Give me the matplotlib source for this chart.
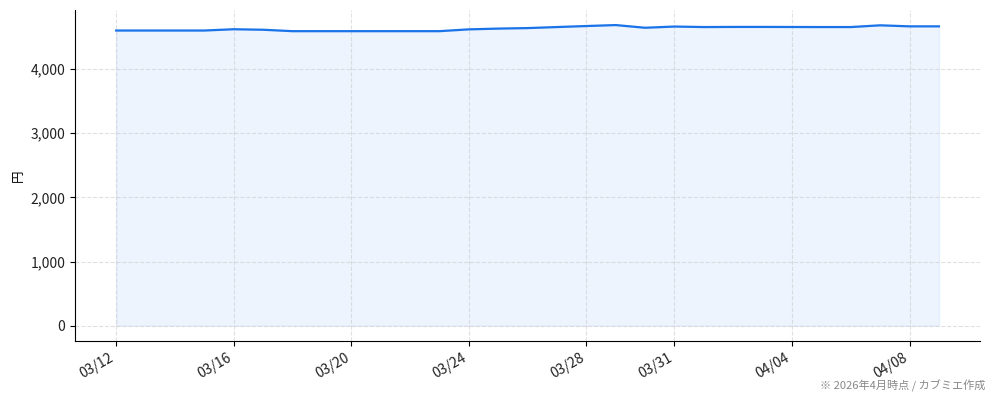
import pandas as pd
import matplotlib
matplotlib.use("Agg")
from matplotlib import pyplot as plt
import matplotlib.dates as mdates

plt.rcParams['font.family'] = ['Noto Sans CJK JP', 'DejaVu Sans']

# daily closing price (yen), 03/12 - 04/09
dates = pd.date_range("2026-03-12", "2026-04-09", freq="D")
prices = [4600, 4600, 4600, 4600, 4620, 4612, 4590, 4590, 4590, 4590,
          4590, 4590, 4618, 4630, 4638, 4654, 4670, 4685, 4643, 4662,
          4654, 4656, 4656, 4655, 4654, 4654, 4681, 4665, 4665]
tick_dates = ["2026-03-12", "2026-03-16", "2026-03-20", "2026-03-24",
              "2026-03-28", "2026-03-31", "2026-04-04", "2026-04-08"]

fig, ax = plt.subplots(figsize=(9.94, 4.01), dpi=100)
fig.subplots_adjust(left=0.0755, right=0.986, top=0.975, bottom=0.15)

ax.plot(dates, prices, color="#1a73e8", linewidth=1.6)
ax.fill_between(dates, prices, 0, color="#1a73e8", alpha=0.08)

ax.set_xticks(pd.to_datetime(tick_dates))
ax.xaxis.set_major_formatter(mdates.DateFormatter("%m/%d"))
ax.yaxis.set_major_formatter(matplotlib.ticker.FuncFormatter(lambda v, p: f"{int(v):,}"))
ax.set_yticks([0, 1000, 2000, 3000, 4000])
ax.set_ylabel("円", fontsize=9, labelpad=4)

ax.grid(True, linestyle="--", color="#cccccc", alpha=0.6, linewidth=0.8)
ax.spines["top"].set_visible(False)
ax.spines["right"].set_visible(False)
ax.tick_params(labelsize=10, colors="#222222")
ax.tick_params(axis="both", color="black")
plt.setp(ax.get_xticklabels(), rotation=30, ha="right")

fig.text(0.991, 0.022, "※ 2026年4月時点 / カブミエ作成", ha="right", va="bottom",
         fontsize=8, color="#888888")

fig.savefig("out.png", dpi=100)
